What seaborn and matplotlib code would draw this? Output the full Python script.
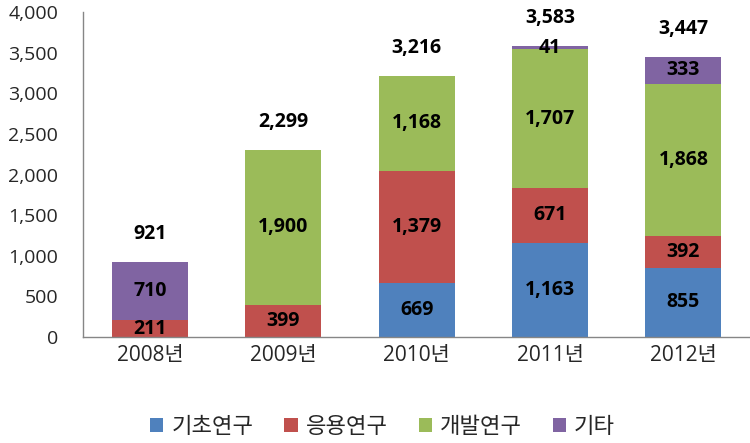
import matplotlib
matplotlib.use("Agg")
import matplotlib.pyplot as plt
import seaborn as sns
import numpy as np
import pandas as pd
from matplotlib.patches import Patch

years = ["2008년", "2009년", "2010년", "2011년", "2012년"]
series_names = ["기초연구", "응용연구", "개발연구", "기타"]
basic = [0, 0, 669, 1163, 855]
applied = [211, 399, 1379, 671, 392]
develop = [0, 1900, 1168, 1707, 1868]
other = [710, 0, 0, 41, 333]
totals = [921, 2299, 3216, 3583, 3447]
colors = ["#4F81BD", "#C0504D", "#9BBB59", "#8064A2"]

sns.set_theme(style="white")
plt.rcParams["font.family"] = ["Open Sans", "Noto Sans CJK KR", "DejaVu Sans"]

fig = plt.figure(figsize=(7.5, 4.43), dpi=100)
ax = fig.add_axes([0.111, 0.239, 0.889, 0.734])

layers = [basic, applied, develop, other]
cum = np.cumsum(np.array(layers), axis=0)

# draw from top layer down so lower layers overlay
for i in range(len(layers) - 1, -1, -1):
    df = pd.DataFrame({"year": years, "value": cum[i]})
    sns.barplot(data=df, x="year", y="value", color=colors[i], width=0.57,
                saturation=1, ax=ax, order=years, linewidth=0, edgecolor="none")

for i, layer in enumerate(layers):
    for j, v in enumerate(layer):
        if v > 0:
            center = cum[i][j] - v / 2
            ax.text(j, center, f"{v:,}", ha="center", va="center",
                    fontsize=14, fontweight="bold", color="black")

for j, t in enumerate(totals):
    ax.annotate(f"{t:,}", xy=(j, cum[-1][j]), xytext=(0, 20),
                textcoords="offset points", ha="center", va="center",
                fontsize=14, fontweight="bold", color="black")

ax.set_ylim(0, 4000)
ax.set_xlim(-0.5, 4.5)
ax.set_yticks(range(0, 4001, 500))
ax.set_yticklabels([f"{v:,}" for v in range(0, 4001, 500)], fontsize=14)
ax.tick_params(axis="x", labelsize=15, length=0, pad=6)
ax.tick_params(axis="y", length=0, pad=18)
ax.set_xlabel("")
ax.set_ylabel("")
for s in ["top", "right"]:
    ax.spines[s].set_visible(False)
for s in ["left", "bottom"]:
    ax.spines[s].set_color("#868686")
    ax.spines[s].set_linewidth(1)

handles = [Patch(facecolor=c, edgecolor="none") for c in colors]
fig.legend(handles, series_names, loc="center", bbox_to_anchor=(0.51, 0.035),
           ncol=4, frameon=False, fontsize=16, handlelength=0.6,
           handleheight=0.6, handletextpad=0.35, columnspacing=1.4)

fig.savefig("out.png", dpi=100)
